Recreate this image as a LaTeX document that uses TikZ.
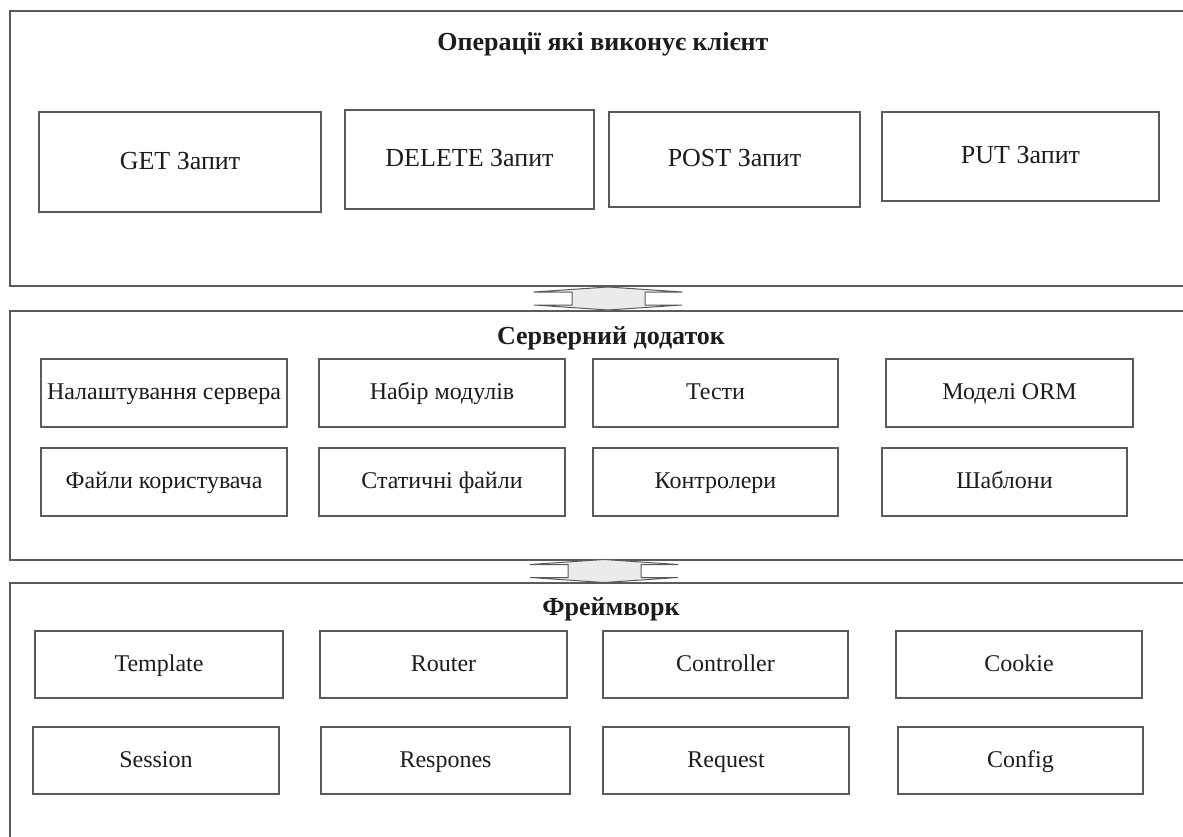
\documentclass[tikz,border=0pt]{standalone}
\usepackage{fontspec}
\setmainfont{Liberation Serif}
\usetikzlibrary{calc}
\definecolor{frame}{HTML}{5A5A5A}
\definecolor{ink}{HTML}{1C1C1C}
\definecolor{pipe}{HTML}{EBEBEB}
\tikzset{
  layer/.style={draw=frame, line width=1.7pt, inner sep=0pt, outer sep=0pt},
  cell/.style={draw=frame, line width=1.6pt, inner sep=0pt, outer sep=0pt,
               font=\fontsize{24}{28}\selectfont, text=ink,
               text height=17.5pt, text depth=4.1pt},
  bigcell/.style={cell, font=\fontsize{26}{30}\selectfont,
               text height=19pt, text depth=4.5pt},
  heading/.style={font=\bfseries\fontsize{26}{30}\selectfont, text=ink, inner sep=0pt, anchor=base},
  pipeline/.style={draw=frame, line width=1pt, fill=pipe, line join=miter}
}
% cell{style}{name}{x1}{y1}{x2}{y2}{label}
\newcommand{\cellbox}[7]{%
  \node[#1, minimum width=#5-#3, minimum height=#6-#4] (#2) at ({(#3+#5)/2},{(#4+#6)/2}) {#7};}
% two-way link between stacked layers, centred on a coordinate
\newcommand{\linkpipe}[1]{%
  \draw[pipeline] ($(#1)+(-36,-6.5)$) -- ++(-38,0) -- ($(#1)+(0,-11.5)$) -- ($(#1)+(74,-6.5)$)
     -- ($(#1)+(37,-6.5)$) -- ($(#1)+(37,6.5)$) -- ($(#1)+(74,6.5)$) -- ($(#1)+(0,11.5)$)
     -- ($(#1)+(-74,6.5)$) -- ($(#1)+(-36,6.5)$) -- cycle;}
\begin{document}
\begin{tikzpicture}[x=1pt, y=-1pt]
\useasboundingbox (0,0) rectangle (1183,837);

% ---- client layer ----
\node[layer, minimum width=1185, minimum height=275] (client) at (602.5,148.5) {};
\node[heading] (clientT) at (603,51) {Операції які виконує клієнт};
\cellbox{bigcell}{get}{39}{112}{321}{212}{GET Запит}
\cellbox{bigcell}{delete}{345}{110}{594}{209}{DELETE Запит}
\cellbox{bigcell}{post}{609}{112}{860}{207}{POST Запит}
\cellbox{bigcell}{put}{882}{112}{1159}{201}{PUT Запит}

% ---- server application layer ----
\node[layer, minimum width=1185, minimum height=249] (server) at (602.5,435.5) {};
\node[heading] (serverT) at (611,344) {Серверний додаток};
\cellbox{cell}{settings}{41}{359}{287}{427}{Налаштування сервера}
\cellbox{cell}{modules}{319}{359}{565}{427}{Набір модулів}
\cellbox{cell}{tests}{593}{359}{838}{427}{Тести}
\cellbox{cell}{orm}{886}{359}{1133}{427}{Моделі ORM}
\cellbox{cell}{userfiles}{41}{448}{287}{516}{Файли користувача}
\cellbox{cell}{static}{319}{448}{565}{516}{Статичні файли}
\cellbox{cell}{controllers}{593}{448}{838}{516}{Контролери}
\cellbox{cell}{templates}{882}{448}{1127}{516}{Шаблони}

% ---- framework layer ----
\node[layer, minimum width=1185, minimum height=267] (framework) at (602.5,716.5) {};
\node[heading] (frameworkT) at (611,615) {Фреймворк};
\cellbox{cell}{template}{35}{631}{283}{698}{Template}
\cellbox{cell}{router}{320}{631}{567}{698}{Router}
\cellbox{cell}{controller}{603}{631}{848}{698}{Controller}
\cellbox{cell}{cookie}{896}{631}{1142}{698}{Cookie}
\cellbox{cell}{session}{33}{727}{279}{794}{Session}
\cellbox{cell}{respones}{321}{727}{570}{794}{Respones}
\cellbox{cell}{request}{603}{727}{849}{794}{Request}
\cellbox{cell}{config}{898}{727}{1143}{794}{Config}

% ---- links between layers ----
\coordinate (link1) at (608,298.5);
\coordinate (link2) at (604,571);
\linkpipe{link1}
\linkpipe{link2}
\end{tikzpicture}
\end{document}
